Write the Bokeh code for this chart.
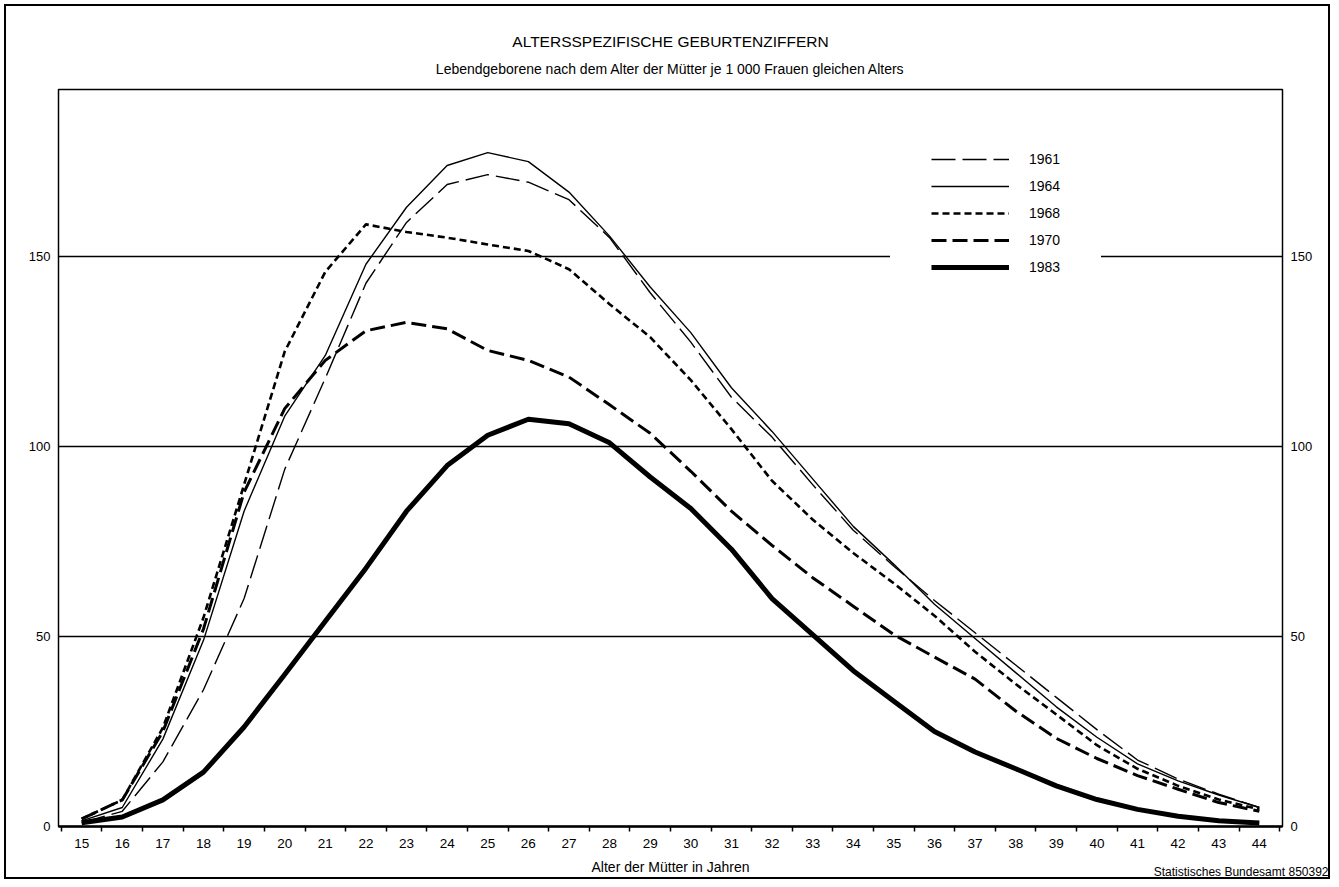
from bokeh.plotting import figure
from bokeh.models import (Range1d, FixedTicker, LinearAxis, Legend, LegendItem,
                          Title, ColumnDataSource)
from bokeh.embed import file_html
from bokeh.resources import INLINE

FONT = "Liberation Sans"

ages = list(range(15, 45))
rate_1961 = [1, 4, 17, 36, 60, 94, 118, 143, 159, 169, 171.6, 169.6, 165, 155, 140.5,
             127.5, 113, 102.5, 90, 78, 68.5, 59.5, 51, 42.5, 34, 25.5, 17.5, 12.5, 8.5, 5]
rate_1964 = [1.5, 5, 23, 49, 83, 108, 124, 148, 163, 174, 177.4, 175, 167, 155.4, 142,
             130, 115.5, 104, 91.5, 79, 69, 58.5, 49.5, 40.5, 31.5, 23.5, 16.5, 12, 8.3, 5]
rate_1968 = [2, 7, 26, 55, 90, 125, 146, 158.5, 156.5, 155, 153.2, 151.5, 146.7, 137.5, 128.8,
             117.5, 104.6, 91, 80.8, 72, 64, 55.5, 46, 37.5, 29.5, 21.4, 15.2, 10.7, 7.1, 4.5]
rate_1970 = [2, 7, 25, 52, 88, 110, 122.7, 130.5, 132.7, 131, 125.3, 122.7, 118.3, 111, 103.5,
             93.5, 83, 74, 65.5, 58, 50.5, 44.6, 38.8, 30.4, 23.2, 17.9, 13.4, 9.8, 6.3, 4]
rate_1983 = [1, 2.5, 7, 14.3, 26.2, 40, 54, 68, 83, 95, 103, 107.2, 106, 101, 92,
             83.7, 73, 60, 50.5, 41, 33, 25, 19.6, 15.2, 10.7, 7.1, 4.5, 2.7, 1.5, 0.9]

years = ["1961", "1964", "1968", "1970", "1983"]
y_ticks = [0, 50, 100, 150]
grid_values = [50, 100, 150]

title_text = "ALTERSSPEZIFISCHE GEBURTENZIFFERN"
subtitle_text = "Lebendgeborene nach dem Alter der Mütter je 1 000 Frauen gleichen Alters"
xlabel_text = "Alter der Mütter in Jahren"
credit_text = "Statistisches Bundesamt 850392"

p = figure(width=1326, height=875, output_backend="svg", toolbar_location=None,
           x_range=Range1d(14.43, 44.57), y_range=Range1d(0, 194),
           min_border_left=52, min_border_right=50, min_border_top=83, min_border_bottom=55,
           title=title_text,
           styles={"border": "2px solid black", "margin": "4px 0px 0px 4px"})

p.background_fill_color = "white"
p.border_fill_color = "white"
p.outline_line_color = "black"
p.outline_line_width = 1.5

p.title.text_font = FONT
p.title.text_font_size = "15.5px"
p.title.text_font_style = "normal"
p.title.text_color = "black"
p.title.align = "center"
p.title.standoff = -8
sub = Title(text=subtitle_text, align="center", text_font=FONT, text_color="black",
            text_font_size="14px", text_font_style="normal", standoff=26)
p.add_layout(sub, "above")

# x axis
xa = p.xaxis[0]
xa.ticker = FixedTicker(ticks=ages, minor_ticks=[a + 0.5 for a in range(14, 45)])
xa.major_tick_line_color = None
xa.major_tick_out = 0
xa.major_tick_in = 0
xa.minor_tick_out = 5
xa.minor_tick_in = 0
xa.minor_tick_line_color = "black"
xa.minor_tick_line_width = 1.5
xa.axis_line_width = 2.5
xa.axis_line_color = "black"
xa.major_label_text_font = FONT
xa.major_label_text_font_size = "13.5px"
xa.major_label_text_color = "black"
xa.major_label_standoff = 7
xa.axis_label = xlabel_text
xa.axis_label_text_font = FONT
xa.axis_label_text_font_size = "14px"
xa.axis_label_text_font_style = "normal"
xa.axis_label_text_color = "black"
xa.axis_label_standoff = 8

# credit line, right-aligned in the bottom margin
credit = Title(text=credit_text, align="right", offset=-46, standoff=-26,
               vertical_align="top", text_color="black",
               text_font=FONT, text_font_size="12px", text_font_style="normal")
p.add_layout(credit, "below")

# y axes
ya = p.yaxis[0]
ya.ticker = FixedTicker(ticks=y_ticks)
ra = LinearAxis(ticker=FixedTicker(ticks=y_ticks))
p.add_layout(ra, "right")
for ax in (ya, ra):
    ax.axis_line_color = None
    ax.major_tick_line_color = None
    ax.minor_tick_line_color = None
    ax.major_tick_out = 0
    ax.major_label_text_font = FONT
    ax.major_label_text_font_size = "13px"
    ax.major_label_text_color = "black"
    ax.major_label_standoff = 8

p.xgrid.visible = False
p.ygrid.ticker = FixedTicker(ticks=grid_values)
p.ygrid.grid_line_color = "black"
p.ygrid.grid_line_width = 1.3
p.ygrid.grid_line_alpha = 1

styles = {
    "1961": dict(line_width=1.4, line_dash="24 7"),
    "1964": dict(line_width=1.4, line_dash="solid"),
    "1968": dict(line_width=2.6, line_dash="7 4"),
    "1970": dict(line_width=3.0, line_dash="15 6"),
    "1983": dict(line_width=5.0, line_dash="solid"),
}
series = {"1961": rate_1961, "1964": rate_1964, "1968": rate_1968,
          "1970": rate_1970, "1983": rate_1983}

items = []
for yr in years:
    src = ColumnDataSource(dict(x=ages, y=series[yr]))
    r = p.line("x", "y", source=src, line_color="black", line_join="round", **styles[yr])
    items.append(LegendItem(label=yr, renderers=[r]))

legend = Legend(items=items, location=(832, 508), padding=40, spacing=7,
                glyph_width=78, glyph_height=20, label_height=20, label_standoff=20,
                label_text_font=FONT, label_text_font_size="14px", label_text_color="black",
                border_line_color="white", border_line_width=1,
                background_fill_color="white", background_fill_alpha=1.0, margin=0)
p.add_layout(legend, "center")

open("out.html", "w").write(file_html(p, INLINE))
